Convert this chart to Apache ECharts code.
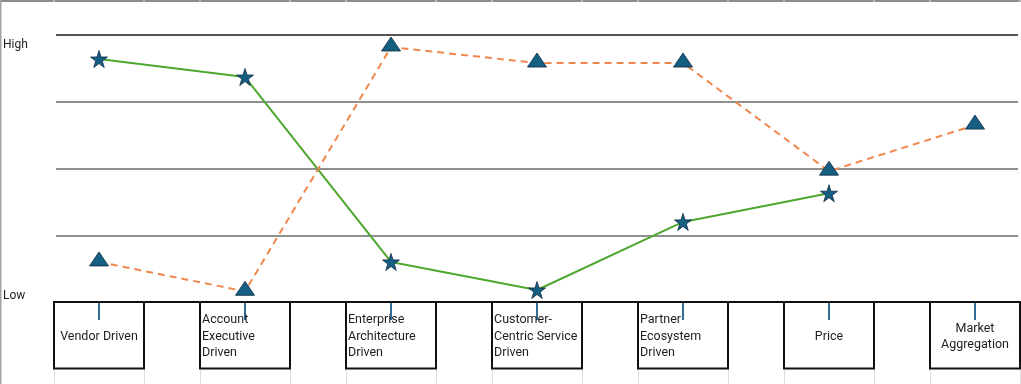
<!DOCTYPE html>
<html><head><meta charset="utf-8">
<script src="https://cdn.jsdelivr.net/npm/echarts@6/dist/echarts.min.js"></script>
<style>html,body{margin:0;padding:0;background:#fff}#c{width:1021px;height:384px}</style>
</head><body><div id="c"></div>
<script>
// ---- data ----
const categories = ['Vendor Driven', 'Account\nExecutive\nDriven', 'Enterprise\nArchitecture\nDriven', 'Customer-\nCentric Service\nDriven', 'Partner\nEcosystem\nDriven', 'Price', 'Market\nAggregation'];
const starValues = [3.64, 3.37, 0.60, 0.18, 1.20, 1.63, null];
const triangleValues = [0.60, 0.16, 3.82, 3.58, 3.58, 1.96, 2.65];
const levelLabels = ['Low', '', '', '', 'High'];

// ---- styling ----
const FONT = 'Roboto';
const TEXT = '#1e1e1e';
const starPath = 'path://M50,0 L61.2,34.5 L97.6,34.5 L68.2,55.9 L79.4,90.5 L50,69.1 L20.6,90.5 L31.8,55.9 L2.4,34.5 L38.8,34.5 Z';

function boxLabel(name) {
  const lines = name.split('\n');
  const st = lines.length === 3 ? 'l' : 'c';
  const body = lines.map(t => '{' + st + '|' + t + '}');
  if (lines.length === 1) return ['{s1| }', body[0], '{s1| }'].join('\n');
  if (lines.length === 2) return ['{s2| }'].concat(body, ['{s2| }']).join('\n');
  return body.join('\n');
}

const chart = echarts.init(document.getElementById('c'), null, {renderer: 'canvas'});
const tokenBase = {fontFamily: FONT, fontSize: 12.5, color: TEXT, lineHeight: 16.5};

chart.setOption({
  backgroundColor: '#fff',
  animation: false,
  grid: [
    {left: 26, width: 1022, top: 35, bottom: 82, containLabel: false, outerBoundsMode: 'none'},
    {left: 56, right: 3, top: 35, bottom: 82, containLabel: false, outerBoundsMode: 'none'}
  ],
  xAxis: [
    {
      type: 'category', gridIndex: 0, data: categories, boundaryGap: true,
      axisLine: {show: false},
      axisTick: {show: true, alignWithLabel: true, length: 18, lineStyle: {color: '#2f6f98', width: 2}},
      axisLabel: {
        interval: 0, margin: 0, verticalAlign: 'top', align: 'center',
        width: 86, padding: [10, 2, 7, 2],
        borderColor: '#111', borderWidth: 2,
        fontFamily: FONT, fontSize: 12.5, color: TEXT, lineHeight: 16.5,
        formatter: boxLabel,
        rich: {
          l: Object.assign({align: 'left'}, tokenBase),
          c: Object.assign({align: 'center'}, tokenBase),
          s1: Object.assign({}, tokenBase, {lineHeight: 16.5}),
          s2: Object.assign({}, tokenBase, {lineHeight: 8.25})
        }
      },
      splitLine: {show: false}
    },
    {
      type: 'value', gridIndex: 1, min: 0, max: 1,
      axisLine: {show: true, onZero: false, lineStyle: {color: '#111', width: 2}},
      axisTick: {show: false}, axisLabel: {show: false}, splitLine: {show: false}
    }
  ],
  yAxis: [
    {type: 'value', gridIndex: 0, min: 0, max: 4, interval: 1, show: false, splitLine: {show: false}},
    {
      type: 'value', gridIndex: 1, min: 0, max: 4, interval: 1,
      axisLine: {show: false}, axisTick: {show: false},
      splitLine: {show: true, lineStyle: {color: ['#111', '#6b6b6b', '#6b6b6b', '#6b6b6b', '#1a1a1a'], width: 1.5}},
      axisLabel: {
        show: true, align: 'left', margin: 53, fontFamily: FONT, fontSize: 12, color: TEXT,
        formatter: v => {
          const t = levelLabels[v];
          if (!t) return '';
          return v === 4 ? '{hi|' + t + '}' : '{lo|' + t + '}';
        },
        rich: {
          hi: {fontFamily: FONT, fontSize: 12, color: TEXT, lineHeight: 32, verticalAlign: 'bottom'},
          lo: {fontFamily: FONT, fontSize: 12, color: TEXT, lineHeight: 24, verticalAlign: 'top'}
        }
      }
    }
  ],
  series: [
    {
      name: 'Stars', type: 'line', xAxisIndex: 0, yAxisIndex: 0, data: starValues,
      lineStyle: {color: '#4EA72E', width: 2},
      symbol: starPath, symbolSize: 17,
      itemStyle: {color: '#156082', borderColor: '#0E2841', borderWidth: 0.8},
      z: 3
    },
    {
      name: 'Triangles', type: 'line', xAxisIndex: 0, yAxisIndex: 0, data: triangleValues,
      lineStyle: {color: '#F0884E', width: 2, type: [7, 5]},
      symbol: 'triangle', symbolSize: [19, 14], symbolOffset: [0, -3],
      itemStyle: {color: '#156082', borderColor: '#0E2841', borderWidth: 0.8},
      z: 4
    }
  ]
});

// spreadsheet cell borders around the chart (decoration derived from category positions)
const W = chart.getWidth(), H = chart.getHeight();
const edges = [];
categories.forEach((c, i) => {
  const x = chart.convertToPixel({xAxisIndex: 0}, i);
  edges.push(Math.round(x - 45), Math.round(x + 45));
});
const graphics = [
  {type: 'rect', shape: {x: 0, y: 0, width: W, height: 2}, style: {fill: '#8c8c8c'}, silent: true, z: 10},
  {type: 'line', shape: {x1: 0.75, y1: 0, x2: 0.75, y2: H}, style: {stroke: '#a3a3a3', lineWidth: 1.5}, silent: true, z: 10}
];
edges.forEach(x => {
  graphics.push({type: 'line', shape: {x1: x, y1: 0, x2: x, y2: 2}, style: {stroke: '#e6e6e6', lineWidth: 1}, silent: true, z: 11});
  graphics.push({type: 'line', shape: {x1: x + 0.5, y1: 370, x2: x + 0.5, y2: H}, style: {stroke: '#dedede', lineWidth: 1}, silent: true, z: 1});
});
chart.setOption({graphic: graphics});
</script>
</body></html>
